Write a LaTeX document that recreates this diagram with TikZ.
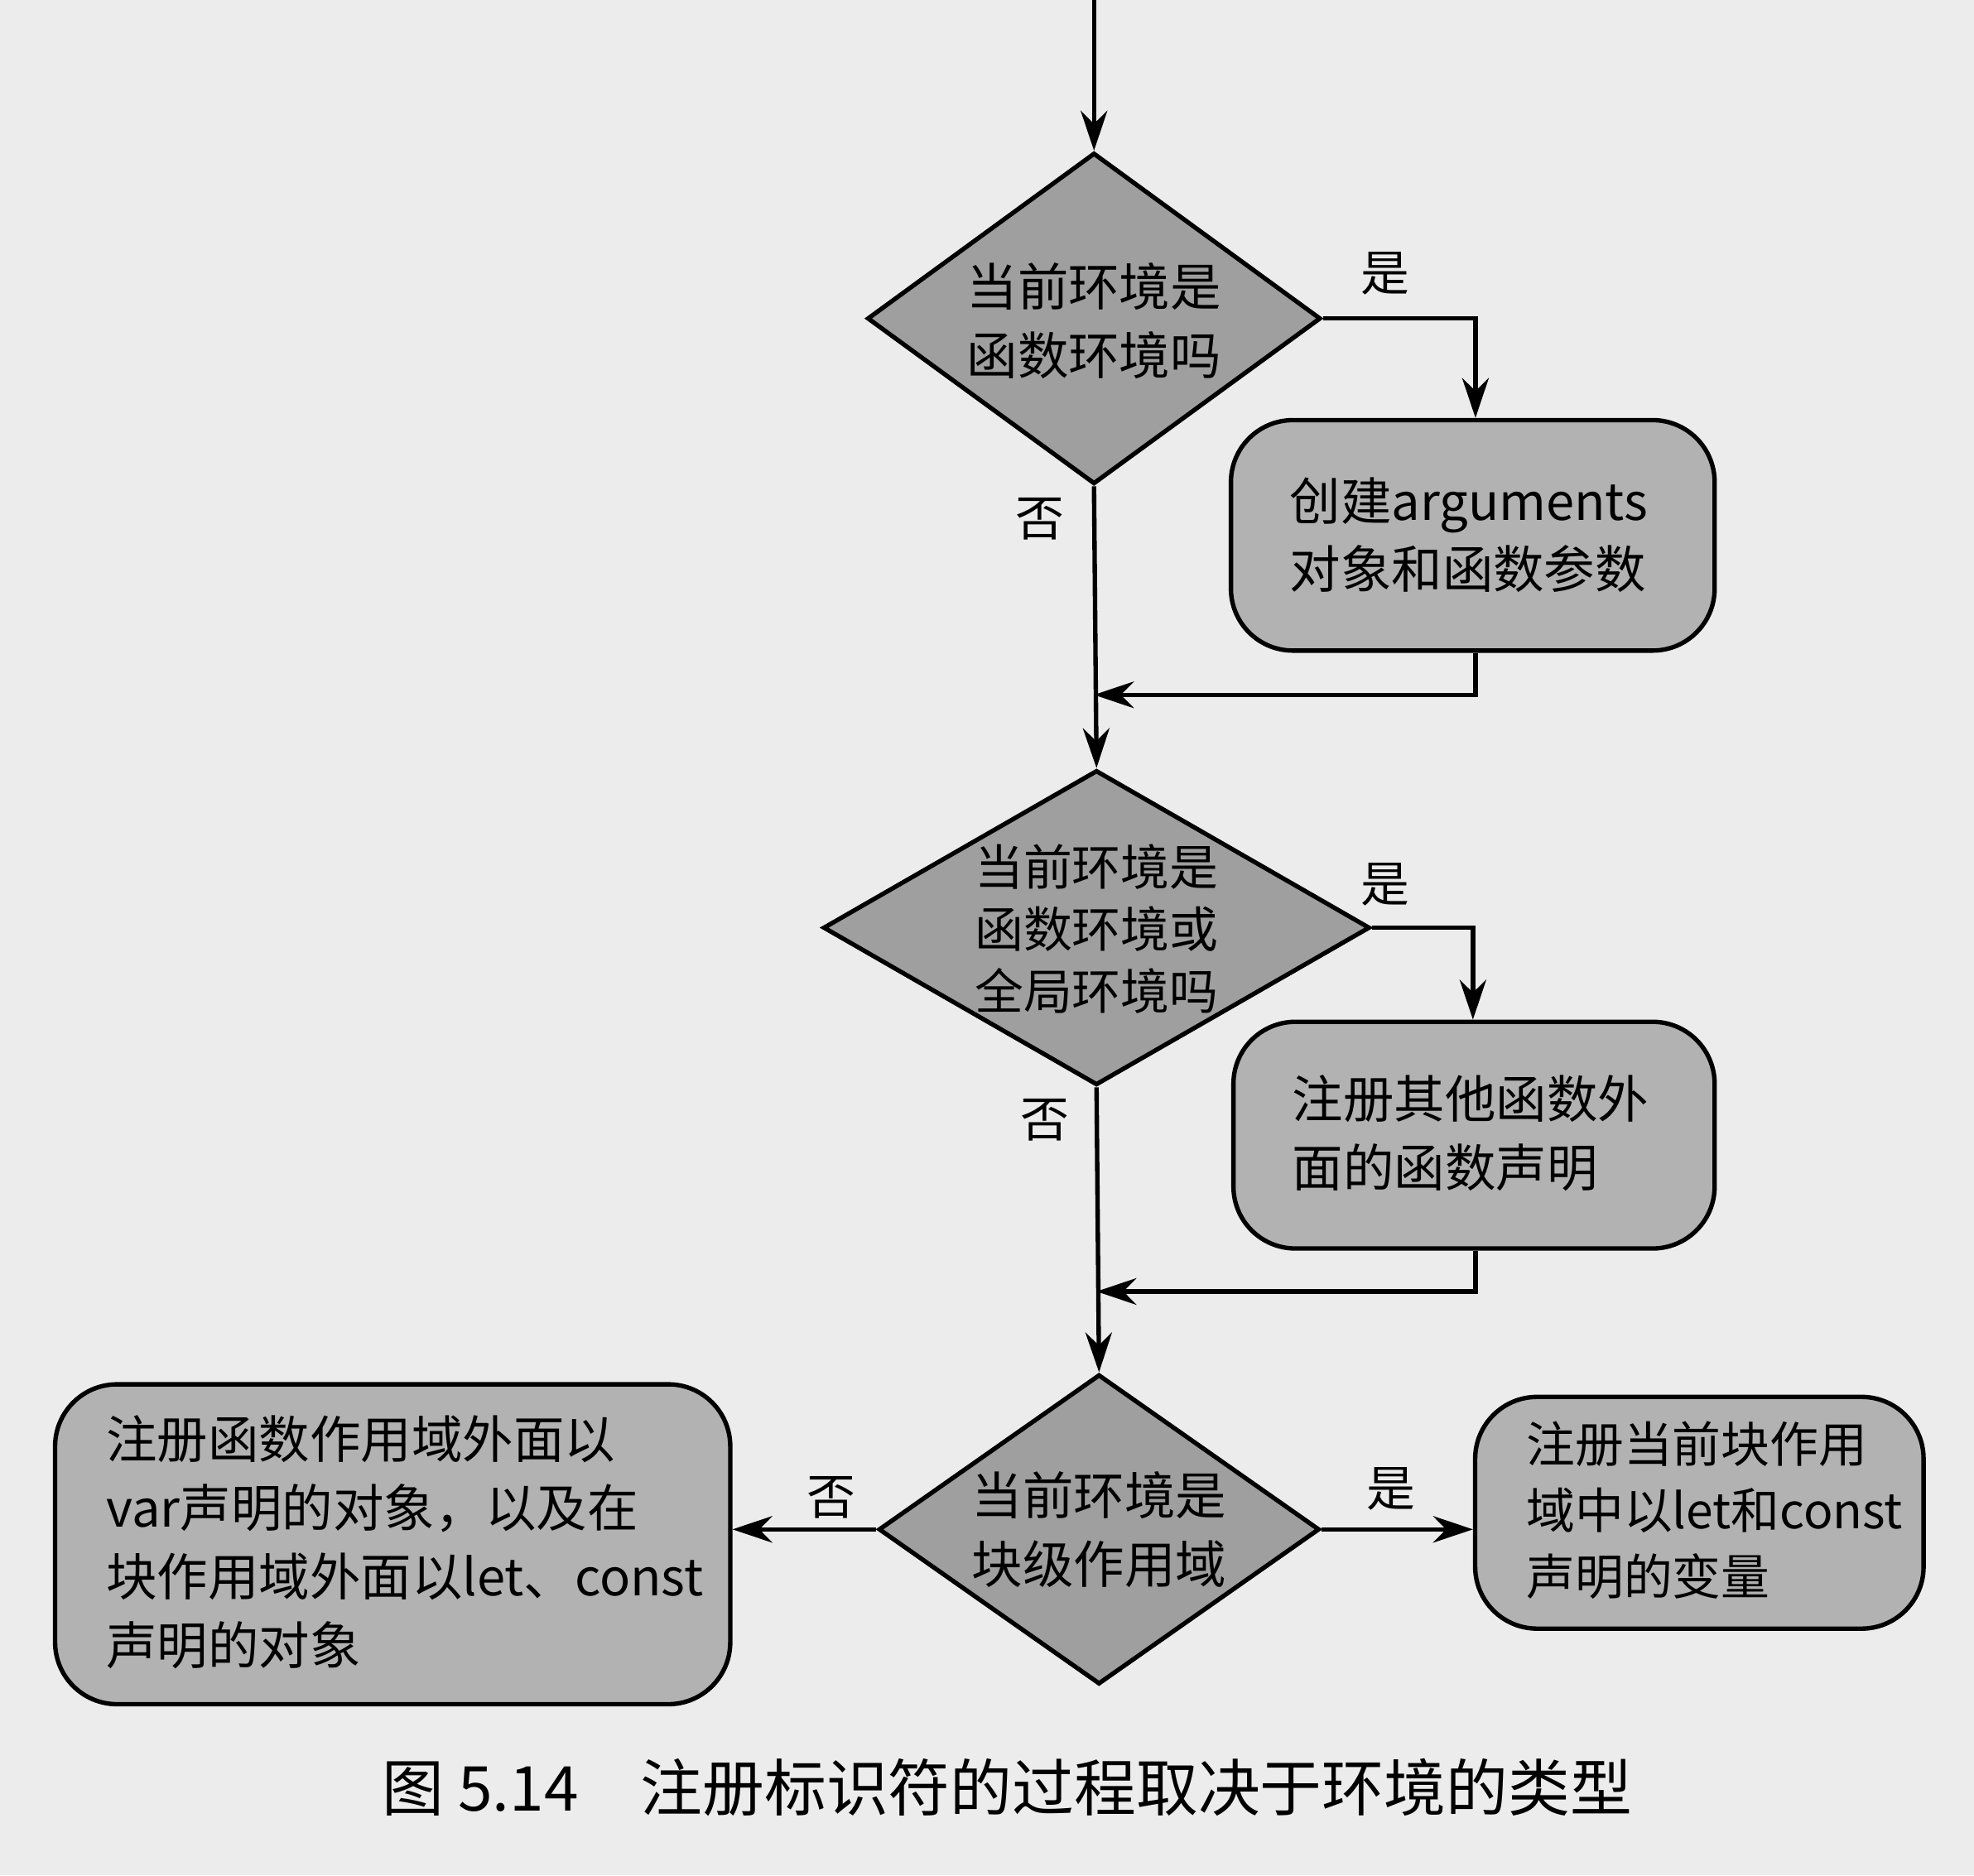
\documentclass[tikz,border=0pt]{standalone}
\usepackage{fontspec}
\newfontfamily\cjk{Noto Sans CJK SC}
\usetikzlibrary{shapes.geometric,arrows.meta}
\begin{document}
\begin{tikzpicture}[x=0.01cm,y=-0.01cm,
  dia/.style={diamond,draw=black,line width=1pt,fill=gray!75,inner sep=0pt},
  box/.style={draw=black,line width=1pt,fill=gray!60,rounded corners=14pt,anchor=north west,inner sep=0pt},
  txt/.style={font=\cjk\fontsize{11.5}{15.5}\selectfont,align=left},
  lbl/.style={font=\cjk\fontsize{11}{13}\selectfont},
  arr/.style={-{Stealth[length=9pt,width=6pt]},line width=1pt}]
\fill[gray!15] (0,0) rectangle (1568,1490);
\useasboundingbox (0,0) rectangle (1568,1490);
\coordinate (start) at (869,0);
\node[dia,minimum width=3.6cm,minimum height=2.63cm] (d1) at (869,253) {};
\node[txt] at (869,255) {当前环境是\\函数环境吗};
\node[box,minimum width=3.84cm,minimum height=1.83cm] (b1) at (976,332) {};
\node[txt,anchor=west] at (1012,425) {创建arguments\\对象和函数参数};
\node[dia,minimum width=4.34cm,minimum height=2.5cm] (d2) at (871,737) {};
\node[txt,font=\cjk\fontsize{11}{14}\selectfont] at (871,738) {当前环境是\\函数环境或\\全局环境吗};
\node[box,minimum width=3.82cm,minimum height=1.8cm] (b2) at (978,810) {};
\node[txt,anchor=west] at (1014,900) {注册其他函数外\\面的函数声明};
\node[dia,minimum width=3.5cm,minimum height=2.46cm] (d3) at (873,1215) {};
\node[txt] at (873,1215) {当前环境是\\块级作用域};
\node[box,minimum width=5.36cm,minimum height=2.54cm] (b3) at (42,1098) {};
\node[txt,anchor=west] at (72,1225) {注册函数作用域外面以\\var声明的对象，以及在\\块作用域外面以let、const\\声明的对象};
\node[box,minimum width=3.56cm,minimum height=1.84cm] (b4) at (1170,1108) {};
\node[txt,anchor=west,font=\cjk\fontsize{11}{15}\selectfont] at (1200,1200) {注册当前块作用\\域中以let和const\\声明的变量};
\draw[arr] (start) -- (d1.north);
\draw[arr] (d1.east) -| (1172,332);
\draw[arr] (d1.south) -- (d2.north);
\coordinate (j1) at (1172,552);
\draw[arr] (b1.south-|j1) -- (j1) -- (j1-|d1.south);
\draw[arr] (d2.east) -| (1170,810);
\draw[arr] (d2.south) -- (d3.north);
\coordinate (j2) at (1172,1026);
\draw[arr] (b2.south-|j2) -- (j2) -- (j2-|d2.south);
\draw[arr] (d3.west) -- (d3.west-|b3.east);
\draw[arr] (d3.east) -- (d3.east-|b4.west);
\node[lbl] at (1100,217) {是};
\node[lbl] at (826,412) {否};
\node[lbl] at (1100,703) {是};
\node[lbl] at (830,890) {否};
\node[lbl] at (660,1190) {否};
\node[lbl] at (1105,1183) {是};
\node[font=\cjk\fontsize{14}{16}\selectfont] at (800,1420) {图 5.14\quad 注册标识符的过程取决于环境的类型};
\end{tikzpicture}
\end{document}
